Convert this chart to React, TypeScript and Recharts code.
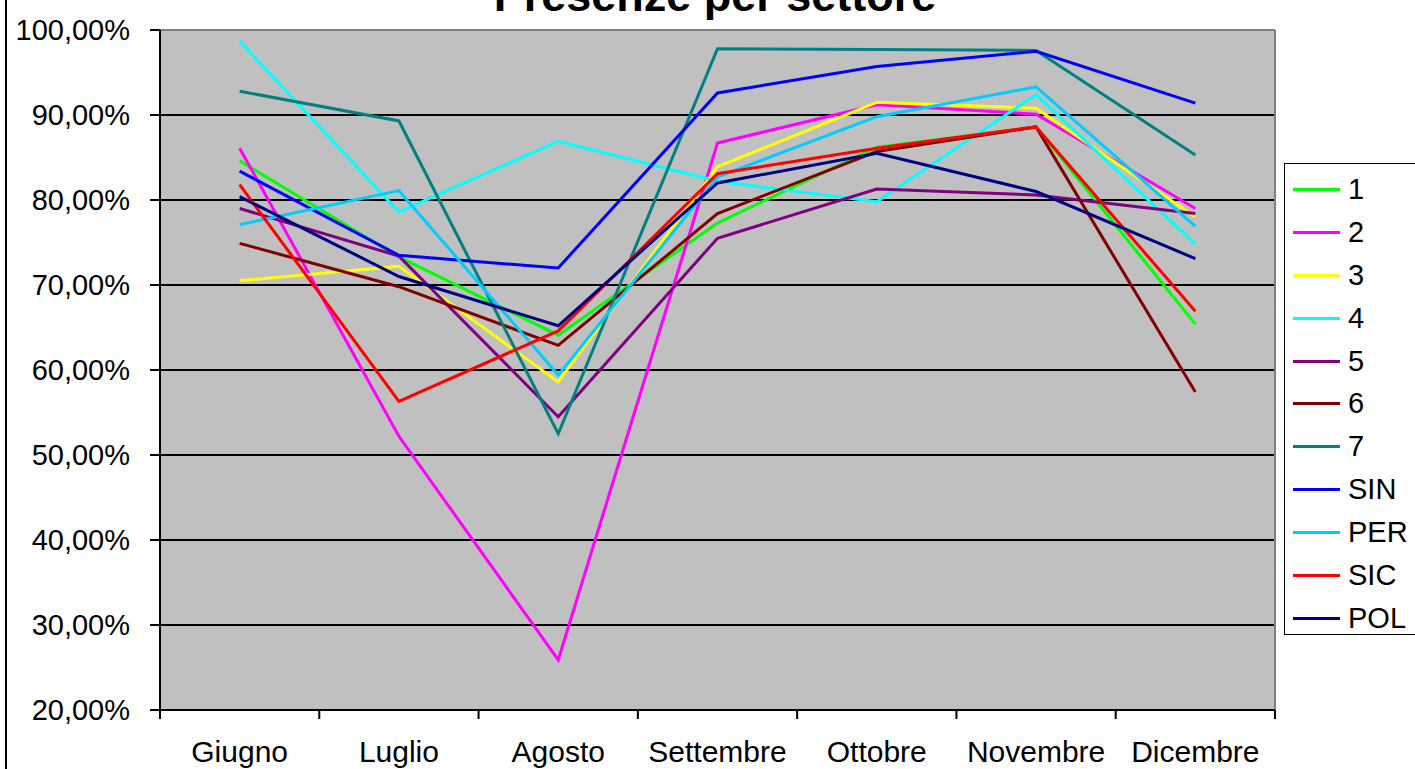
import { CartesianGrid, Legend, Line, LineChart, ReferenceLine, XAxis, YAxis } from "recharts"

const months = ["Giugno", "Luglio", "Agosto", "Settembre", "Ottobre", "Novembre", "Dicembre"]
const yTicks = [20, 30, 40, 50, 60, 70, 80, 90, 100]

// presenze % per settore
const s1 = [84.6, 73.3, 64.1, 77.3, 86.2, 88.6, 65.4]
const s2 = [86.1, 52.2, 25.9, 86.7, 91.2, 90.1, 79.0]
const s3 = [70.5, 72.2, 58.6, 83.9, 91.5, 90.8, 78.0]
const s4 = [98.7, 78.6, 86.9, 82.2, 79.8, 92.4, 74.8]
const s5 = [79.0, 73.4, 54.5, 75.5, 81.3, 80.6, 78.4]
const s6 = [74.9, 69.8, 62.9, 78.4, 85.7, 88.6, 57.4]
const s7 = [92.8, 89.3, 52.5, 97.8, 97.7, 97.6, 85.3]
const sin = [83.4, 73.5, 72.0, 92.6, 95.7, 97.5, 91.4]
const per = [77.1, 81.1, 59.4, 82.7, 89.8, 93.3, 76.9]
const sic = [81.8, 56.3, 64.6, 83.1, 86.1, 88.6, 66.9]
const pol = [80.4, 71.0, 65.2, 82.0, 85.5, 81.0, 73.1]

const series = [
  { key: "1", values: s1, color: "#00FF00" },
  { key: "2", values: s2, color: "#FF00FF" },
  { key: "3", values: s3, color: "#FFFF00" },
  { key: "4", values: s4, color: "#00FFFF" },
  { key: "5", values: s5, color: "#800080" },
  { key: "6", values: s6, color: "#800000" },
  { key: "7", values: s7, color: "#008080" },
  { key: "SIN", values: sin, color: "#0000FF" },
  { key: "PER", values: per, color: "#00CCFF" },
  { key: "SIC", values: sic, color: "#FF0000" },
  { key: "POL", values: pol, color: "#000080" },
]

const data = months.map((m, i) => {
  const row: Record<string, string | number> = { month: m }
  series.forEach((s) => (row[s.key] = s.values[i]))
  return row
})

const font = "'Liberation Sans', Arial, sans-serif"
const PLOT_W = 1115
const HALF_BAND = PLOT_W / months.length / 2
const TICK_SIZE = 9
const TICK_MARGIN = 22

const fmtPct = (v: number) => v.toFixed(2).replace(".", ",") + "%"

// etichetta del mese + tacche tra le categorie (stile Excel)
function MonthTick(props: any) {
  const { x, y, payload, index, visibleTicksCount } = props
  const half = props.width ? props.width / visibleTicksCount / 2 : HALF_BAND
  const axisY = y - TICK_SIZE - TICK_MARGIN
  return (
    <g>
      <line x1={x - half} y1={axisY} x2={x - half} y2={axisY + TICK_SIZE} stroke="#000" strokeWidth={2} />
      {index === visibleTicksCount - 1 && (
        <line x1={x + half} y1={axisY} x2={x + half} y2={axisY + TICK_SIZE} stroke="#000" strokeWidth={2} />
      )}
      <text x={x} y={y} dy="0.71em" textAnchor="middle" fontSize={30} fontFamily={font} fill="#000">
        {payload.value}
      </text>
    </g>
  )
}

function LegendBox({ payload }: any) {
  const items = series.map((s) => (payload || []).find((p: any) => p.value === s.key)).filter(Boolean)
  return (
    <div
      style={{
        border: "1px solid #000",
        background: "#fff",
        width: 140,
        height: 472,
        boxSizing: "border-box",
        paddingTop: 4,
        fontFamily: font,
      }}
    >
      {items.map((p: any) => (
        <div key={p.value} style={{ display: "flex", alignItems: "center", height: 42.9, paddingLeft: 8 }}>
          <div style={{ width: 47, height: 3, background: p.color, marginRight: 8 }} />
          <span style={{ fontSize: 29, color: "#000", lineHeight: 1 }}>{p.value}</span>
        </div>
      ))}
    </div>
  )
}

export default function App() {
  return (
    <div
      style={{
        position: "absolute",
        left: 0,
        top: 0,
        width: 1415,
        height: 769,
        background: "#fff",
        overflow: "hidden",
        fontFamily: font,
      }}
    >
      <div style={{ position: "absolute", left: 5, top: 0, width: 2, height: 769, background: "#000" }} />
      <svg width={1415} height={30} style={{ position: "absolute", left: 0, top: 0 }}>
        <text x={715} y={11} textAnchor="middle" fontSize={45} fontWeight="bold" fontFamily={font} fill="#000">
          Presenze per settore
        </text>
      </svg>
      <LineChart
        width={1415}
        height={769}
        data={data}
        margin={{ top: 30, right: 140, bottom: 0, left: 0 }}
        style={{ position: "absolute", left: 0, top: 0 }}
      >
        <CartesianGrid horizontal vertical={false} stroke="#000" strokeWidth={2} fill="#C0C0C0" strokeOpacity={1} />
        <CartesianGrid horizontal={false} vertical verticalPoints={[1275]} stroke="#808080" strokeWidth={2} />
        <XAxis
          dataKey="month"
          height={59}
          padding={{ left: HALF_BAND, right: HALF_BAND }}
          axisLine={{ stroke: "#000", strokeWidth: 2 }}
          tickLine={false}
          tickSize={TICK_SIZE}
          tickMargin={TICK_MARGIN}
          interval={0}
          tick={<MonthTick />}
        />
        <YAxis
          width={160}
          domain={[20, 100]}
          ticks={yTicks}
          tickFormatter={fmtPct}
          tickSize={10}
          tickMargin={20}
          axisLine={{ stroke: "#000", strokeWidth: 2 }}
          tickLine={{ stroke: "#000", strokeWidth: 2 }}
          tick={{ fontSize: 29, fill: "#000", fontFamily: font }}
        />
        <ReferenceLine y={100} stroke="#808080" strokeWidth={2} />
        <Legend
          layout="horizontal"
          verticalAlign="middle"
          align="center"
          content={<LegendBox />}
          wrapperStyle={{ left: 1284, top: 163, width: 140, height: 472 }}
        />
        {series.map((s) => (
          <Line
            key={s.key}
            dataKey={s.key}
            name={s.key}
            stroke={s.color}
            strokeWidth={3}
            dot={false}
            activeDot={false}
            isAnimationActive={false}
          />
        ))}
      </LineChart>
    </div>
  )
}
